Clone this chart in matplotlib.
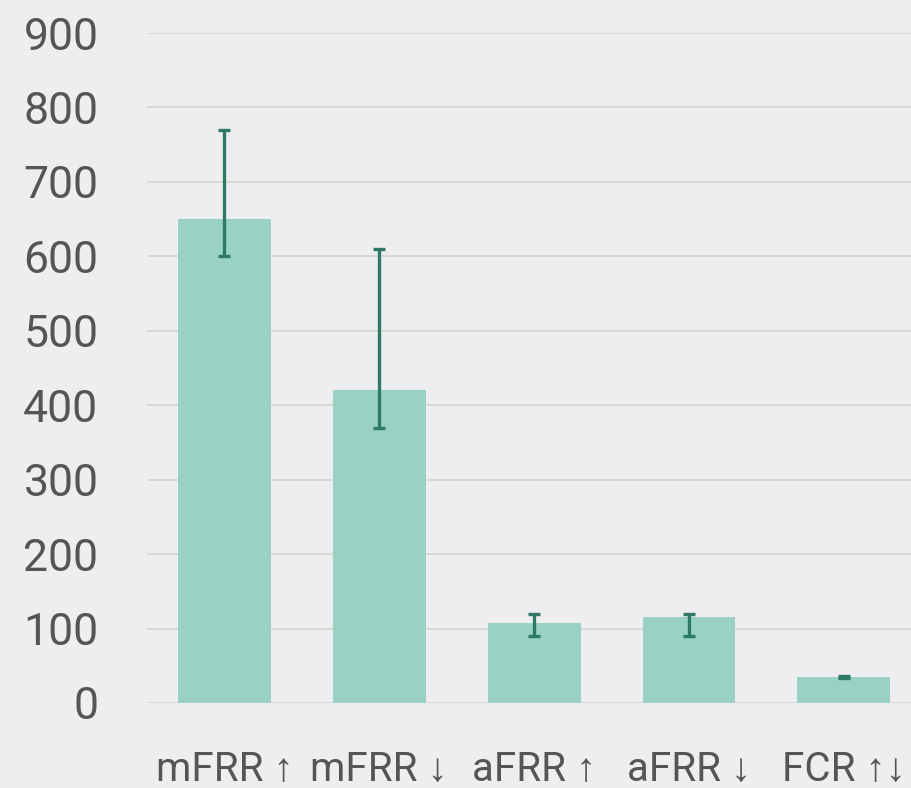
import matplotlib.pyplot as plt
import numpy as np

# reserve products, mean value with low/high range
categories = ['mFRR ↑', 'mFRR ↓', 'aFRR ↑', 'aFRR ↓', 'FCR ↑↓']
values = [650, 420, 108, 116, 35]
err_low = [600, 370, 90, 90, 34]
err_high = [770, 610, 120, 120, 36]

bg = '#eeedef'
bar_color = '#99d2c2'
err_color = '#2f7a64'
text_color = '#555555'

# Roboto has no arrows; Liberation Sans gives narrow ones
plt.rcParams['font.family'] = ['Roboto', 'Liberation Sans', 'DejaVu Sans']

fig = plt.figure(figsize=(9.12, 7.88), dpi=100)
fig.patch.set_facecolor(bg)
ax = fig.add_axes([0.1612, 0.1079, 0.8388, 0.8502])
ax.set_facecolor(bg)

x = np.arange(len(categories))
vals = np.array(values)
yerr = [vals - np.array(err_low), np.array(err_high) - vals]

ax.bar(x, vals, width=0.6, color=bar_color, zorder=2)
ax.errorbar(x, vals, yerr=yerr, fmt='none', ecolor=err_color,
            elinewidth=2.4, capsize=4.5, capthick=2.4, zorder=3)

ax.set_ylim(0, 900)
ax.set_xlim(-0.5, 4.44)
ax.set_yticks(range(0, 901, 100))
ax.set_xticks(x)
ax.set_xticklabels(categories)
ax.yaxis.grid(True, color='#d8d8d8', linewidth=1.5, zorder=0)
ax.set_axisbelow(True)
for s in ax.spines.values():
    s.set_visible(False)
ax.tick_params(axis='y', length=0, pad=35, labelsize=32, labelcolor=text_color)
ax.tick_params(axis='x', length=0, pad=34, labelsize=29, labelcolor=text_color)

fig.savefig('out.png', dpi=100, facecolor=bg)
